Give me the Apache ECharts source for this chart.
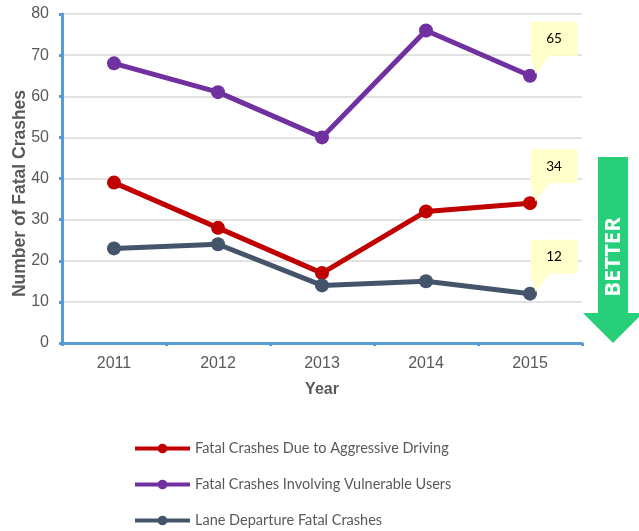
<!DOCTYPE html>
<html>
<head>
<meta charset="utf-8">
<script src="https://cdn.jsdelivr.net/npm/echarts@6/dist/echarts.min.js"></script>
<style>
  html, body { margin: 0; padding: 0; background: #fff; }
  #chart { width: 639px; height: 531px; }
</style>
</head>
<body>
<div id="chart"></div>
<script>
// Fatal crash counts by year
const years = ['2011', '2012', '2013', '2014', '2015'];
const aggressive = [39, 28, 17, 32, 34];
const vulnerable = [68, 61, 50, 76, 65];
const laneDeparture = [23, 24, 14, 15, 12];
const yTicks = { min: 0, max: 80, step: 10 };

const seriesNames = [
  'Fatal Crashes Due to Aggressive Driving',
  'Fatal Crashes Involving Vulnerable Users',
  'Lane Departure Fatal Crashes'
];
const seriesColors = ['#C00000', '#7030A0', '#44546A'];
const seriesData = [aggressive, vulnerable, laneDeparture];

const gray = '#595959';
const axisBlue = '#5B9BD5';

// Callout bubble: box with a tail pointing down-left to the last point
const calloutPath = 'path://M0 0 L47 0 L47 34 L19 34 L5 52 L0 34 Z';

function lastCallout(values) {
  const i = values.length - 1;
  return {
    silent: true,
    symbol: calloutPath,
    symbolSize: [47, 52],
    symbolOffset: [24, -28],
    itemStyle: { color: '#FFFFCC' },
    label: {
      show: true,
      position: 'inside',
      offset: [0, -9],
      color: '#000',
      fontFamily: 'Lato',
      fontSize: 13.5,
      formatter: p => String(p.value)
    },
    data: [{ coord: [years[i], values[i]], value: values[i] }]
  };
}

const chart = echarts.init(document.getElementById('chart'));

chart.setOption({
  animation: false,
  grid: { left: 62, right: 57, top: 14, bottom: 188, containLabel: false, outerBoundsMode: 'none' },
  legend: {
    orient: 'vertical',
    left: 133,
    top: 441,
    height: 110,
    padding: 0,
    itemWidth: 55,
    itemHeight: 12,
    itemGap: 21,
    lineStyle: { width: 4 },
    textStyle: { color: gray, fontFamily: 'Lato', fontSize: 14.5 },
    data: seriesNames
  },
  xAxis: {
    type: 'category',
    data: years,
    boundaryGap: true,
    name: 'Year',
    nameLocation: 'middle',
    nameGap: 39,
    nameTextStyle: { color: gray, fontWeight: 'bold', fontSize: 16, fontFamily: 'Liberation Sans' },
    axisLine: { lineStyle: { color: axisBlue, width: 3 } },
    axisTick: { show: true, length: 3, lineStyle: { color: axisBlue, width: 3 } },
    axisLabel: { color: gray, fontSize: 16, fontFamily: 'Liberation Sans', margin: 13 }
  },
  yAxis: {
    type: 'value',
    min: yTicks.min,
    max: yTicks.max,
    interval: yTicks.step,
    name: 'Number of Fatal Crashes',
    nameLocation: 'middle',
    nameGap: 33,
    nameMoveOverlap: false,
    nameTextStyle: {
      color: gray, fontWeight: 'bold', fontSize: 17.5, fontFamily: 'Liberation Sans',
      padding: [0, 30, 0, 0]
    },
    axisLine: { show: true, lineStyle: { color: axisBlue, width: 3 } },
    axisTick: { show: true, length: 3, lineStyle: { color: axisBlue, width: 3 } },
    axisLabel: { color: gray, fontSize: 16, fontFamily: 'Liberation Sans', margin: 13 },
    splitLine: { lineStyle: { color: '#D9D9D9', width: 1.5 } }
  },
  series: seriesNames.map((name, k) => ({
    name,
    type: 'line',
    data: seriesData[k],
    symbol: 'circle',
    symbolSize: 14,
    color: seriesColors[k],
    lineStyle: { width: 5, color: seriesColors[k] },
    itemStyle: { color: seriesColors[k] },
    z: 2 + k,
    markPoint: lastCallout(seriesData[k])
  })),
  graphic: [
    {
      type: 'polygon',
      shape: {
        points: [[598, 157], [628, 157], [628, 313], [643, 313], [613, 343], [583, 313], [598, 313]]
      },
      style: { fill: '#27CF7B' }
    },
    {
      type: 'text',
      x: 614,
      y: 257,
      rotation: Math.PI / 2,
      style: {
        text: 'BETTER',
        fill: '#fff',
        font: 'bold 22px "Open Sans"',
        align: 'center',
        verticalAlign: 'middle'
      }
    }
  ]
});
</script>
</body>
</html>
